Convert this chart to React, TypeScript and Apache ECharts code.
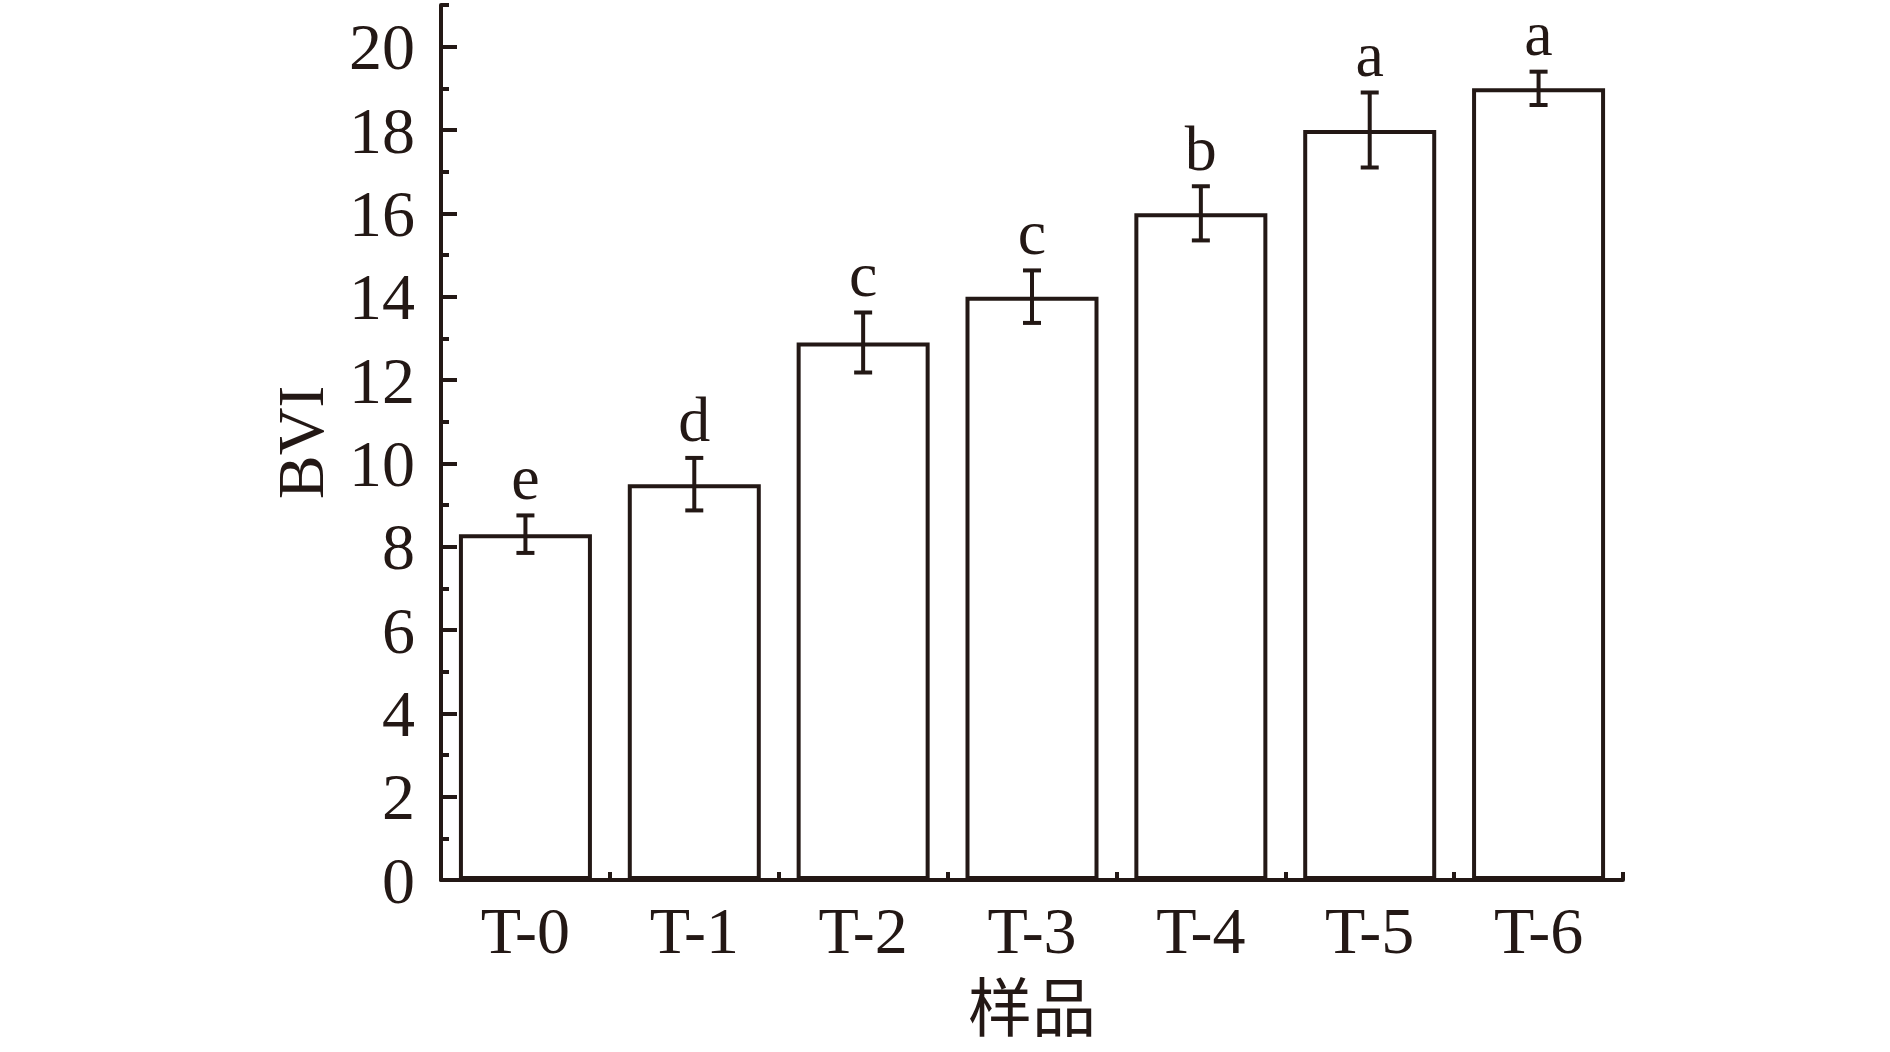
import React, { useEffect, useRef } from "react";
import * as echarts from "echarts";

const categories = ["T-0", "T-1", "T-2", "T-3", "T-4", "T-5", "T-6"];
const values = [8.3, 9.5, 12.9, 14.0, 16.0, 18.0, 19.0];
const errors = [0.45, 0.63, 0.72, 0.63, 0.65, 0.9, 0.4];
const letters = ["e", "d", "c", "c", "b", "a", "a"];
const yMin = 0;
const yMax = 21;
const majorTicks = [0, 2, 4, 6, 8, 10, 12, 14, 16, 18, 20];
const minorTicks = [1, 3, 5, 7, 9, 11, 13, 15, 17, 19, 21];

const INK = "#231815";
const FONT = "'Liberation Serif', 'Times New Roman', 'Noto Sans CJK SC', serif";

export default function App() {
  const ref = useRef<HTMLDivElement>(null);
  useEffect(() => {
    document.body.style.margin = "0";
    const chart = echarts.init(ref.current!, null, { renderer: "svg" });
    const gridBox = { left: 441, width: 1182, top: 5, height: 875 };

    chart.setOption({
      animation: false,
      backgroundColor: "#ffffff",
      textStyle: { fontFamily: FONT, color: INK },
      grid: [{ ...gridBox }, { ...gridBox }],
      xAxis: [
        {
          type: "category",
          gridIndex: 0,
          data: categories,
          boundaryGap: true,
          name: "样品",
          nameLocation: "middle",
          nameGap: 97,
          nameTextStyle: { fontSize: 64, color: INK, fontFamily: FONT },
          axisLine: { show: true, lineStyle: { color: INK, width: 4 } },
          axisTick: { show: true, inside: true, length: 8, lineStyle: { color: INK, width: 4 } },
          axisLabel: { fontSize: 66, color: INK, fontFamily: FONT, margin: 17 },
          splitLine: { show: false },
        },
        {
          type: "category",
          gridIndex: 1,
          data: categories,
          boundaryGap: true,
          axisLine: { show: false },
          axisTick: { show: true, inside: true, alignWithLabel: true, length: 16, lineStyle: { color: INK, width: 4 } },
          axisLabel: { show: false },
          splitLine: { show: false },
        },
      ],
      yAxis: [
        {
          type: "value",
          gridIndex: 0,
          min: yMin,
          max: yMax,
          interval: 1,
          name: "BVI",
          nameLocation: "middle",
          nameGap: 108,
          nameRotate: 90,
          nameTextStyle: { fontSize: 66, color: INK, fontFamily: FONT },
          axisLine: { show: true, lineStyle: { color: INK, width: 4 } },
          axisTick: { show: true, inside: true, length: 8, customValues: minorTicks, lineStyle: { color: INK, width: 4 } },
          axisLabel: {
            fontSize: 66,
            color: INK,
            fontFamily: FONT,
            margin: 26,
            customValues: majorTicks,
          },
          splitLine: { show: false },
        },
        {
          type: "value",
          gridIndex: 1,
          min: yMin,
          max: yMax,
          interval: 1,
          axisLine: { show: false },
          axisTick: { show: true, inside: true, length: 16, customValues: majorTicks, lineStyle: { color: INK, width: 4 } },
          axisLabel: { show: false },
          splitLine: { show: false },
        },
      ],
      series: [
        {
          type: "bar",
          xAxisIndex: 0,
          yAxisIndex: 0,
          data: values,
          barWidth: 133,
          itemStyle: { color: "#ffffff", borderColor: INK, borderWidth: 4 },
          z: 1,
        },
        {
          type: "custom",
          xAxisIndex: 0,
          yAxisIndex: 0,
          z: 5,
          data: values.map((v, i) => [i, v, errors[i]]),
          renderItem: (params: any, api: any) => {
            const i = api.value(0);
            const v = api.value(1);
            const e = api.value(2);
            const top = api.coord([i, v + e]);
            const bot = api.coord([i, v - e]);
            const half = 9;
            const ls = { stroke: INK, lineWidth: 4 };
            return {
              type: "group",
              children: [
                { type: "line", shape: { x1: top[0], y1: top[1], x2: bot[0], y2: bot[1] }, style: ls },
                { type: "line", shape: { x1: top[0] - half, y1: top[1], x2: top[0] + half, y2: top[1] }, style: ls },
                { type: "line", shape: { x1: bot[0] - half, y1: bot[1], x2: bot[0] + half, y2: bot[1] }, style: ls },
                {
                  type: "text",
                  x: top[0],
                  y: top[1] - 38,
                  style: {
                    text: letters[params.dataIndex],
                    fontSize: 64,
                    fontFamily: FONT,
                    fill: INK,
                    align: "center",
                    verticalAlign: "middle",
                  },
                },
              ],
            };
          },
        },
      ],
    });
    return () => chart.dispose();
  }, []);
  return <div ref={ref} style={{ width: 1890, height: 1052 }} />;
}
